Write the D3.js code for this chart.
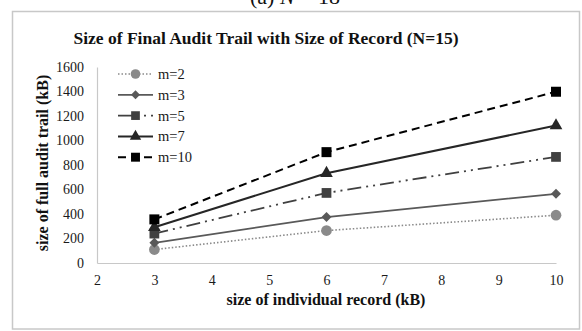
<!DOCTYPE html>
<html><head><meta charset="utf-8">
<script src="https://cdn.jsdelivr.net/npm/d3@7/dist/d3.min.js"></script>
<style>body{margin:0;background:#fff}svg{display:block}svg text{font-family:"Liberation Serif",serif}</style>
</head><body>
<script>
const xValues = [3, 6, 10];
const seriesNames = ["m=2", "m=3", "m=5", "m=7", "m=10"];
const m2 = [110, 265, 390];
const m3 = [165, 375, 565];
const m5 = [240, 572, 866];
const m7 = [292, 733, 1122];
const m10 = [356, 905, 1398];
const xTicks = [2, 3, 4, 5, 6, 7, 8, 9, 10];
const yTicks = [0, 200, 400, 600, 800, 1000, 1200, 1400, 1600];
const titleText = "Size of Final Audit Trail with Size of Record (N=15)";
const xLabel = "size of individual record (kB)";
const yLabel = "size of full audit trail (kB)";

const seriesValues = [m2, m3, m5, m7, m10];
const styles = [
  {color: "#8a8a8a", dash: "1.5,2", width: 1.6, symbol: d3.symbolCircle, size: 90, rot: 0},
  {color: "#595959", dash: null, width: 1.8, symbol: d3.symbolSquare, size: 50, rot: 45},
  {color: "#404040", dash: "14,5,2,5,2,5", width: 1.8, symbol: d3.symbolSquare, size: 95, rot: 0},
  {color: "#262626", dash: null, width: 2, symbol: d3.symbolTriangle, size: 70, rot: 0},
  {color: "#000000", dash: "8,5", width: 2, symbol: d3.symbolSquare, size: 100, rot: 0}
];

const W = 582, H = 331;
const svg = d3.select("body").append("svg").attr("width", W).attr("height", H);
const serif = "Liberation Serif";

// top clipped caption
svg.append("text").attr("x", 295).attr("y", 4).attr("text-anchor", "middle")
  .style("font-family", serif).attr("font-size", 22).attr("fill", "#111")
  .html('(a) <tspan font-style="italic">N</tspan> = 18');

// frame
svg.append("rect").attr("x", 12.5).attr("y", 11.5).attr("width", 567).attr("height", 317.5)
  .attr("fill", "#fff").attr("stroke", "#c8c8c8").attr("stroke-width", 1.5);

const x = d3.scaleLinear().domain([2, 10]).range([97, 556]);
const y = d3.scaleLinear().domain([0, 1600]).range([263, 67]);

// axes
const xAxis = svg.append("g").attr("transform", `translate(0,${y(0)})`)
  .call(d3.axisBottom(x).tickValues(xTicks).tickFormat(d3.format("d")).tickSize(0).tickPadding(12));
const yAxis = svg.append("g").attr("transform", `translate(${x(2)},0)`)
  .call(d3.axisLeft(y).tickValues(yTicks).tickFormat(d3.format("d")).tickSize(0).tickPadding(13));
[xAxis, yAxis].forEach(g => {
  g.attr("font-family", null);
  g.select(".domain").attr("stroke", "#c8c8c8").attr("stroke-width", 1.2);
  g.selectAll("text").style("font-family", serif).attr("font-size", 14).attr("fill", "#1a1a1a");
});

// title
svg.append("text").attr("x", 266).attr("y", 44).attr("text-anchor", "middle")
  .style("font-family", serif).attr("font-weight", "bold").attr("font-size", 17.5)
  .attr("fill", "#111").text(titleText);

svg.append("text").attr("x", 326).attr("y", 305).attr("text-anchor", "middle")
  .style("font-family", serif).attr("font-weight", "bold").attr("font-size", 16)
  .attr("fill", "#111").text(xLabel);

svg.append("text").attr("transform", "translate(48,163) rotate(-90)").attr("text-anchor", "middle")
  .style("font-family", serif).attr("font-weight", "bold").attr("font-size", 16)
  .attr("fill", "#111").text(yLabel);

const line = d3.line().x(d => x(d[0])).y(d => y(d[1]));

seriesValues.forEach((vals, i) => {
  const st = styles[i];
  const pts = xValues.map((xv, j) => [xv, vals[j]]);
  svg.append("path").attr("d", line(pts)).attr("fill", "none")
    .attr("stroke", st.color).attr("stroke-width", st.width)
    .attr("stroke-dasharray", st.dash);
  svg.selectAll(null).data(pts).enter().append("path")
    .attr("d", d3.symbol().type(st.symbol).size(st.size))
    .attr("transform", d => `translate(${x(d[0])},${y(d[1])}) rotate(${st.rot})`)
    .attr("fill", st.color);
});

// legend
const lg = svg.append("g");
seriesNames.forEach((name, i) => {
  const st = styles[i];
  const ly = 74 + i * 20.8;
  lg.append("line").attr("x1", 118).attr("x2", 153).attr("y1", ly).attr("y2", ly)
    .attr("stroke", st.color).attr("stroke-width", st.width).attr("stroke-dasharray", st.dash);
  lg.append("path").attr("d", d3.symbol().type(st.symbol).size(st.size * 0.8))
    .attr("transform", `translate(135.5,${ly}) rotate(${st.rot})`).attr("fill", st.color);
  lg.append("text").attr("x", 158).attr("y", ly + 5).style("font-family", serif)
    .attr("font-size", 14.5).attr("fill", "#1a1a1a").text(name);
});
</script>
</body></html>
